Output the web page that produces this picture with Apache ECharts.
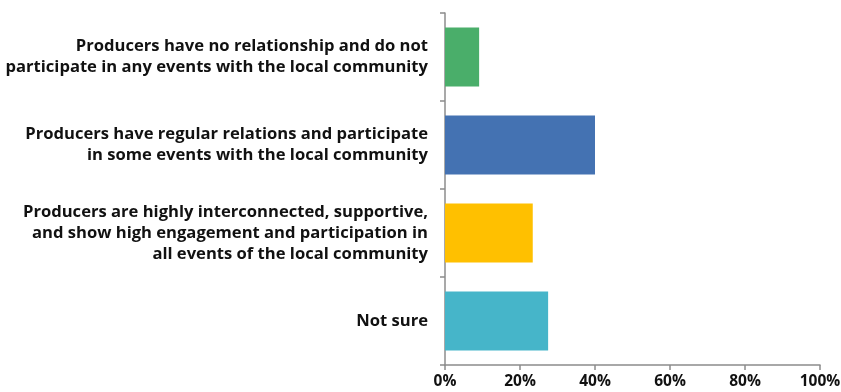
<!DOCTYPE html>
<html><head><meta charset="utf-8">
<script src="https://cdn.jsdelivr.net/npm/echarts@6/dist/echarts.min.js"></script>
<style>html,body{margin:0;padding:0;background:#fff}#c{width:841px;height:392px}</style>
</head><body><div id="c"></div>
<script>
const categories = [
  "Producers have no relationship and do not\nparticipate in any events with the local community",
  "Producers have regular relations and participate\nin some events with the local community",
  "Producers are highly interconnected, supportive,\nand show high engagement and participation in\nall events of the local community",
  "Not sure"
];
const values = [9.1, 40.0, 23.4, 27.5];
const colors = ["#4aae6a", "#4472b2", "#ffc000", "#46b5c9"];
const xTicks = [0, 20, 40, 60, 80, 100];

const chart = echarts.init(document.getElementById('c'), null, {renderer: 'canvas'});
chart.setOption({
  animation: false,
  grid: {left: 445, right: 21, top: 13, bottom: 27, containLabel: false, outerBoundsMode: 'none'},
  xAxis: {
    type: 'value', min: 0, max: 100, interval: 20,
    axisLine: {show: true, lineStyle: {color: '#8c8c8c', width: 1.5}},
    axisTick: {show: true, length: 5, lineStyle: {color: '#8c8c8c', width: 1.5}},
    splitLine: {show: false},
    axisLabel: {margin: 9, color: '#111', fontFamily: 'Open Sans', fontWeight: 'bold', fontSize: 15.5,
      formatter: v => xTicks.includes(v) ? v + '%' : ''}
  },
  yAxis: {
    type: 'category', data: categories, inverse: true,
    axisLine: {show: true, lineStyle: {color: '#8c8c8c', width: 1.5}},
    axisTick: {show: true, length: 5, lineStyle: {color: '#8c8c8c', width: 1.5}},
    axisLabel: {margin: 17, color: '#111', fontFamily: 'Open Sans', fontWeight: 'bold', fontSize: 16.6, lineHeight: 21, align: 'right'}
  },
  series: [{
    type: 'bar', barCategoryGap: '33%',
    data: values.map((v, i) => ({value: v, itemStyle: {color: colors[i]}}))
  }]
});
</script></body></html>
